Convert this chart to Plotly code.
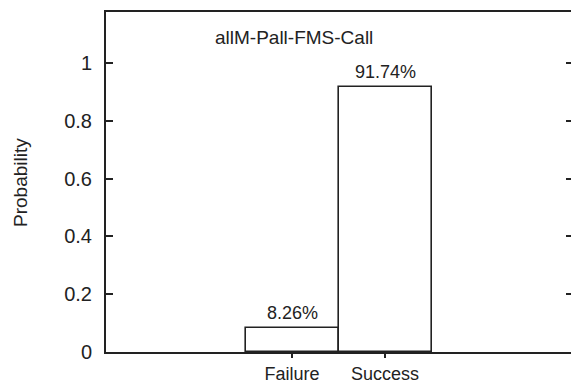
import plotly.graph_objects as go

# Outcome probabilities for the allM-Pall-FMS-Call configuration
categories = ["Failure", "Success"]
probabilities = [0.0826, 0.9174]
y_ticks = [0, 0.2, 0.4, 0.6, 0.8, 1]
y_tick_labels = ["0", "0.2", "0.4", "0.6", "0.8", "1"]
chart_title = "allM-Pall-FMS-Call"

FONT = "Liberation Sans, Arial, sans-serif"
INK = "#222222"

fig = go.Figure()
fig.add_trace(go.Bar(
    x=categories,
    y=probabilities,
    width=1.0,
    marker=dict(color="white", line=dict(color=INK, width=1.6)),
    showlegend=False,
    hoverinfo="x+y",
))
# Empty companion trace so the mirrored right-hand tick axis is rendered
fig.add_trace(go.Scatter(
    x=categories, y=probabilities, yaxis="y2",
    mode="none", showlegend=False, hoverinfo="skip",
))

# Percent labels above each bar, derived from the bar values
for cat, p in zip(categories, probabilities):
    fig.add_annotation(
        x=cat, y=p, xref="x", yref="y",
        text=f"{p * 100:.2f}%",
        showarrow=False, yanchor="bottom", yshift=3,
        font=dict(family=FONT, size=18, color=INK),
    )

# In-plot title
fig.add_annotation(
    x=0.405, y=0.926, xref="paper", yref="paper",
    text=chart_title, showarrow=False,
    xanchor="center", yanchor="middle",
    font=dict(family=FONT, size=19, color=INK),
)

# Rotated y-axis caption
fig.add_annotation(
    x=-0.185, y=0.5, xref="paper", yref="paper",
    text="Probability", textangle=-90, showarrow=False,
    xanchor="center", yanchor="middle",
    font=dict(family=FONT, size=19, color=INK),
)

fig.update_layout(
    width=571, height=380,
    margin=dict(l=106, r=0, t=12, b=28, autoexpand=False),
    paper_bgcolor="white", plot_bgcolor="white",
    bargap=0, barmode="overlay",
    font=dict(family=FONT, size=19, color=INK),
    xaxis=dict(
        type="category", range=[-2, 3],
        showline=True, linecolor=INK, linewidth=2, mirror=True,
        ticks="outside", ticklen=4, tickwidth=1.5, tickcolor=INK,
        showgrid=False, zeroline=False,
        tickfont=dict(family=FONT, size=18, color=INK),
    ),
    yaxis=dict(
        range=[0, 1.176],
        tickvals=y_ticks, ticktext=y_tick_labels,
        showline=True, linecolor=INK, linewidth=2,
        ticks="inside", ticklen=7, tickwidth=1.5, tickcolor=INK,
        ticklabelstandoff=8,
        showgrid=False, zeroline=False,
        tickfont=dict(family=FONT, size=20, color=INK),
    ),
    yaxis2=dict(
        overlaying="y", side="right", range=[0, 1.176],
        tickvals=y_ticks, showticklabels=False,
        ticks="inside", ticklen=5, tickwidth=1.5, tickcolor=INK,
        showline=False, showgrid=False, zeroline=False,
    ),
)

fig.write_html("out.html")
